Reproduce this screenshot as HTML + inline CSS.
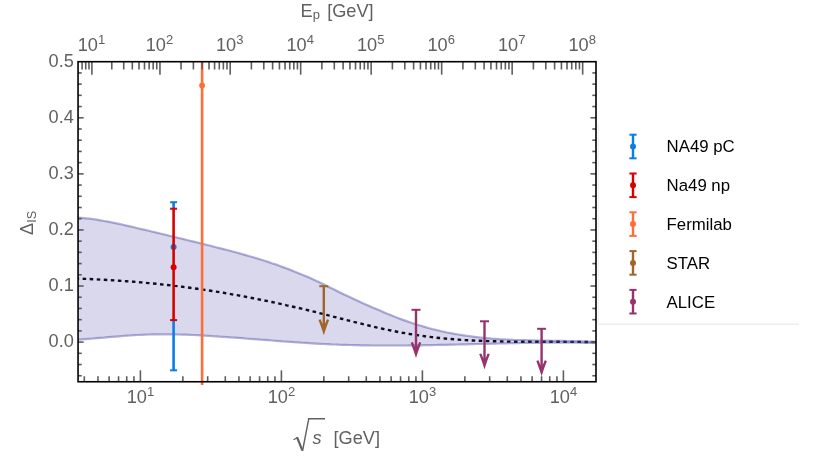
<!DOCTYPE html>
<html><head><meta charset="utf-8"><title>plot</title>
<style>
html,body{margin:0;padding:0;background:#fff;}
body{width:817px;height:469px;overflow:hidden;font-family:"Liberation Sans",sans-serif;}
svg{display:block;will-change:transform;}
</style></head><body>
<svg width="817" height="469" viewBox="0 0 817 469">
<rect width="817" height="469" fill="#ffffff"/>
<path d="M78.0,278.6L81.8,278.7L85.5,278.9L89.2,279.0L93.0,279.2L96.7,279.4L100.4,279.6L104.1,279.8L107.9,280.0L111.6,280.2L115.3,280.5L119.0,280.7L122.8,281.0L126.5,281.2L130.2,281.5L133.9,281.8L137.7,282.1L141.4,282.4L145.1,282.8L148.8,283.1L152.6,283.5L156.3,283.8L160.0,284.2L163.8,284.6L167.5,285.0L171.2,285.4L174.9,285.9L178.7,286.3L182.4,286.8L186.1,287.3L189.8,287.8L193.6,288.3L197.3,288.8L201.0,289.3L204.7,289.9L208.5,290.4L212.2,291.0L215.9,291.6L219.6,292.2L223.4,292.8L227.1,293.5L230.8,294.1L234.6,294.8L238.3,295.4L242.0,296.1L245.7,296.8L249.5,297.5L253.2,298.2L256.9,299.0L260.6,299.7L264.4,300.5L268.1,301.2L271.8,302.0L275.5,302.8L279.3,303.6L283.0,304.4L286.7,305.3L290.4,306.1L294.2,307.0L297.9,307.8L301.6,308.7L305.4,309.6L309.1,310.5L312.8,311.4L316.5,312.3L320.3,313.3L324.0,314.2L327.7,315.2L331.4,316.1L335.2,317.1L338.9,318.1L342.6,319.0L346.3,320.0L350.1,320.9L353.8,321.9L357.5,322.8L361.2,323.7L365.0,324.6L368.7,325.5L372.4,326.4L376.2,327.3L379.9,328.1L383.6,329.0L387.3,329.7L391.1,330.5L394.8,331.3L398.5,332.0L402.2,332.7L406.0,333.3L409.7,334.0L413.4,334.6L417.1,335.1L420.9,335.7L424.6,336.2L428.3,336.7L432.0,337.1L435.8,337.6L439.5,338.0L443.2,338.3L446.9,338.7L450.7,339.0L454.4,339.3L458.1,339.6L461.9,339.9L465.6,340.1L469.3,340.3L473.0,340.5L476.8,340.7L480.5,340.8L484.2,341.0L487.9,341.1L491.7,341.2L495.4,341.3L499.1,341.4L502.8,341.5L506.6,341.6L510.3,341.6L514.0,341.7L517.7,341.7L521.5,341.7L525.2,341.8L528.9,341.8L532.7,341.8L536.4,341.8L540.1,341.8L543.8,341.8L547.6,341.8L551.3,341.8L555.0,341.8L558.7,341.8L562.5,341.8L566.2,341.9L569.9,341.9L573.6,341.9L577.4,341.9L581.1,341.9L584.8,342.0L588.5,342.0L592.3,342.1L596.0,342.2" fill="none" stroke="#000" stroke-width="2.4" stroke-dasharray="3.55 3.5" stroke-dashoffset="2.4"/>
<path d="M78.0,217.6L81.8,217.9L85.5,218.3L89.2,218.7L93.0,219.2L96.7,219.7L100.4,220.3L104.1,221.0L107.9,221.6L111.6,222.4L115.3,223.1L119.0,223.9L122.8,224.7L126.5,225.6L130.2,226.4L133.9,227.3L137.7,228.2L141.4,229.1L145.1,229.9L148.8,230.8L152.6,231.7L156.3,232.6L160.0,233.5L163.8,234.4L167.5,235.3L171.2,236.2L174.9,237.1L178.7,238.0L182.4,238.9L186.1,239.8L189.8,240.7L193.6,241.6L197.3,242.5L201.0,243.4L204.7,244.4L208.5,245.3L212.2,246.2L215.9,247.2L219.6,248.1L223.4,249.1L227.1,250.0L230.8,251.0L234.6,252.0L238.3,253.0L242.0,254.1L245.7,255.1L249.5,256.2L253.2,257.3L256.9,258.4L260.6,259.5L264.4,260.7L268.1,261.9L271.8,263.2L275.5,264.4L279.3,265.7L283.0,267.1L286.7,268.5L290.4,269.9L294.2,271.4L297.9,272.9L301.6,274.4L305.4,276.0L309.1,277.6L312.8,279.3L316.5,281.0L320.3,282.8L324.0,284.6L327.7,286.4L331.4,288.2L335.2,290.1L338.9,291.9L342.6,293.7L346.3,295.5L350.1,297.3L353.8,299.1L357.5,300.8L361.2,302.5L365.0,304.2L368.7,305.8L372.4,307.5L376.2,309.1L379.9,310.6L383.6,312.2L387.3,313.8L391.1,315.3L394.8,316.8L398.5,318.2L402.2,319.6L406.0,320.9L409.7,322.2L413.4,323.5L417.1,324.7L420.9,325.8L424.6,326.9L428.3,328.0L432.0,329.0L435.8,329.9L439.5,330.8L443.2,331.7L446.9,332.5L450.7,333.2L454.4,333.9L458.1,334.5L461.9,335.1L465.6,335.7L469.3,336.2L473.0,336.7L476.8,337.1L480.5,337.5L484.2,337.9L487.9,338.2L491.7,338.6L495.4,338.8L499.1,339.1L502.8,339.3L506.6,339.5L510.3,339.7L514.0,339.9L517.7,340.0L521.5,340.1L525.2,340.2L528.9,340.3L532.7,340.4L536.4,340.5L540.1,340.6L543.8,340.6L547.6,340.7L551.3,340.8L555.0,340.8L558.7,340.9L562.5,340.9L566.2,341.0L569.9,341.1L573.6,341.1L577.4,341.2L581.1,341.3L584.8,341.4L588.5,341.6L592.3,341.7L596.0,341.9L596.0,343.1L592.3,343.0L588.5,342.9L584.8,342.8L581.1,342.8L577.4,342.7L573.6,342.7L569.9,342.7L566.2,342.7L562.5,342.6L558.7,342.6L555.0,342.7L551.3,342.7L547.6,342.7L543.8,342.7L540.1,342.8L536.4,342.8L532.7,342.8L528.9,342.9L525.2,343.0L521.5,343.0L517.7,343.1L514.0,343.2L510.3,343.2L506.6,343.3L502.8,343.4L499.1,343.5L495.4,343.6L491.7,343.7L487.9,343.8L484.2,343.8L480.5,343.9L476.8,344.0L473.0,344.1L469.3,344.2L465.6,344.3L461.9,344.4L458.1,344.5L454.4,344.6L450.7,344.7L446.9,344.8L443.2,344.8L439.5,344.9L435.8,345.0L432.0,345.1L428.3,345.2L424.6,345.2L420.9,345.3L417.1,345.3L413.4,345.4L409.7,345.4L406.0,345.5L402.2,345.5L398.5,345.5L394.8,345.5L391.1,345.5L387.3,345.5L383.6,345.5L379.9,345.5L376.2,345.5L372.4,345.5L368.7,345.4L365.0,345.4L361.2,345.3L357.5,345.2L353.8,345.1L350.1,345.0L346.3,344.9L342.6,344.8L338.9,344.7L335.2,344.5L331.4,344.4L327.7,344.2L324.0,344.0L320.3,343.8L316.5,343.6L312.8,343.4L309.1,343.2L305.4,342.9L301.6,342.7L297.9,342.4L294.2,342.2L290.4,341.9L286.7,341.6L283.0,341.4L279.3,341.1L275.5,340.8L271.8,340.5L268.1,340.2L264.4,339.9L260.6,339.7L256.9,339.4L253.2,339.1L249.5,338.8L245.7,338.5L242.0,338.2L238.3,337.9L234.6,337.6L230.8,337.4L227.1,337.1L223.4,336.8L219.6,336.6L215.9,336.3L212.2,336.1L208.5,335.8L204.7,335.6L201.0,335.4L197.3,335.2L193.6,335.0L189.8,334.8L186.1,334.7L182.4,334.6L178.7,334.5L174.9,334.4L171.2,334.3L167.5,334.3L163.8,334.3L160.0,334.3L156.3,334.3L152.6,334.4L148.8,334.5L145.1,334.6L141.4,334.8L137.7,335.0L133.9,335.2L130.2,335.5L126.5,335.7L122.8,336.0L119.0,336.3L115.3,336.6L111.6,336.9L107.9,337.2L104.1,337.6L100.4,337.9L96.7,338.2L93.0,338.5L89.2,338.8L85.5,339.1L81.8,339.4L78.0,339.7Z" fill="#413ea0" fill-opacity="0.2" stroke="none"/>
<path d="M78.0,217.6L81.8,217.9L85.5,218.3L89.2,218.7L93.0,219.2L96.7,219.7L100.4,220.3L104.1,221.0L107.9,221.6L111.6,222.4L115.3,223.1L119.0,223.9L122.8,224.7L126.5,225.6L130.2,226.4L133.9,227.3L137.7,228.2L141.4,229.1L145.1,229.9L148.8,230.8L152.6,231.7L156.3,232.6L160.0,233.5L163.8,234.4L167.5,235.3L171.2,236.2L174.9,237.1L178.7,238.0L182.4,238.9L186.1,239.8L189.8,240.7L193.6,241.6L197.3,242.5L201.0,243.4L204.7,244.4L208.5,245.3L212.2,246.2L215.9,247.2L219.6,248.1L223.4,249.1L227.1,250.0L230.8,251.0L234.6,252.0L238.3,253.0L242.0,254.1L245.7,255.1L249.5,256.2L253.2,257.3L256.9,258.4L260.6,259.5L264.4,260.7L268.1,261.9L271.8,263.2L275.5,264.4L279.3,265.7L283.0,267.1L286.7,268.5L290.4,269.9L294.2,271.4L297.9,272.9L301.6,274.4L305.4,276.0L309.1,277.6L312.8,279.3L316.5,281.0L320.3,282.8L324.0,284.6L327.7,286.4L331.4,288.2L335.2,290.1L338.9,291.9L342.6,293.7L346.3,295.5L350.1,297.3L353.8,299.1L357.5,300.8L361.2,302.5L365.0,304.2L368.7,305.8L372.4,307.5L376.2,309.1L379.9,310.6L383.6,312.2L387.3,313.8L391.1,315.3L394.8,316.8L398.5,318.2L402.2,319.6L406.0,320.9L409.7,322.2L413.4,323.5L417.1,324.7L420.9,325.8L424.6,326.9L428.3,328.0L432.0,329.0L435.8,329.9L439.5,330.8L443.2,331.7L446.9,332.5L450.7,333.2L454.4,333.9L458.1,334.5L461.9,335.1L465.6,335.7L469.3,336.2L473.0,336.7L476.8,337.1L480.5,337.5L484.2,337.9L487.9,338.2L491.7,338.6L495.4,338.8L499.1,339.1L502.8,339.3L506.6,339.5L510.3,339.7L514.0,339.9L517.7,340.0L521.5,340.1L525.2,340.2L528.9,340.3L532.7,340.4L536.4,340.5L540.1,340.6L543.8,340.6L547.6,340.7L551.3,340.8L555.0,340.8L558.7,340.9L562.5,340.9L566.2,341.0L569.9,341.1L573.6,341.1L577.4,341.2L581.1,341.3L584.8,341.4L588.5,341.6L592.3,341.7L596.0,341.9" fill="none" stroke="#413ea0" stroke-opacity="0.41" stroke-width="2.2"/>
<path d="M78.0,339.7L81.8,339.4L85.5,339.1L89.2,338.8L93.0,338.5L96.7,338.2L100.4,337.9L104.1,337.6L107.9,337.2L111.6,336.9L115.3,336.6L119.0,336.3L122.8,336.0L126.5,335.7L130.2,335.5L133.9,335.2L137.7,335.0L141.4,334.8L145.1,334.6L148.8,334.5L152.6,334.4L156.3,334.3L160.0,334.3L163.8,334.3L167.5,334.3L171.2,334.3L174.9,334.4L178.7,334.5L182.4,334.6L186.1,334.7L189.8,334.8L193.6,335.0L197.3,335.2L201.0,335.4L204.7,335.6L208.5,335.8L212.2,336.1L215.9,336.3L219.6,336.6L223.4,336.8L227.1,337.1L230.8,337.4L234.6,337.6L238.3,337.9L242.0,338.2L245.7,338.5L249.5,338.8L253.2,339.1L256.9,339.4L260.6,339.7L264.4,339.9L268.1,340.2L271.8,340.5L275.5,340.8L279.3,341.1L283.0,341.4L286.7,341.6L290.4,341.9L294.2,342.2L297.9,342.4L301.6,342.7L305.4,342.9L309.1,343.2L312.8,343.4L316.5,343.6L320.3,343.8L324.0,344.0L327.7,344.2L331.4,344.4L335.2,344.5L338.9,344.7L342.6,344.8L346.3,344.9L350.1,345.0L353.8,345.1L357.5,345.2L361.2,345.3L365.0,345.4L368.7,345.4L372.4,345.5L376.2,345.5L379.9,345.5L383.6,345.5L387.3,345.5L391.1,345.5L394.8,345.5L398.5,345.5L402.2,345.5L406.0,345.5L409.7,345.4L413.4,345.4L417.1,345.3L420.9,345.3L424.6,345.2L428.3,345.2L432.0,345.1L435.8,345.0L439.5,344.9L443.2,344.8L446.9,344.8L450.7,344.7L454.4,344.6L458.1,344.5L461.9,344.4L465.6,344.3L469.3,344.2L473.0,344.1L476.8,344.0L480.5,343.9L484.2,343.8L487.9,343.8L491.7,343.7L495.4,343.6L499.1,343.5L502.8,343.4L506.6,343.3L510.3,343.2L514.0,343.2L517.7,343.1L521.5,343.0L525.2,343.0L528.9,342.9L532.7,342.8L536.4,342.8L540.1,342.8L543.8,342.7L547.6,342.7L551.3,342.7L555.0,342.7L558.7,342.6L562.5,342.6L566.2,342.7L569.9,342.7L573.6,342.7L577.4,342.7L581.1,342.8L584.8,342.8L588.5,342.9L592.3,343.0L596.0,343.1" fill="none" stroke="#413ea0" stroke-opacity="0.41" stroke-width="2.2"/>
<line x1="173.6" y1="202.2" x2="173.6" y2="209" stroke="#0a7de8" stroke-width="2.6"/>
<line x1="173.6" y1="320" x2="173.6" y2="370.3" stroke="#0a7de8" stroke-width="2.6"/>
<line x1="170.1" y1="202.2" x2="177.1" y2="202.2" stroke="#0a7de8" stroke-width="2"/>
<line x1="170.1" y1="370.3" x2="177.1" y2="370.3" stroke="#0a7de8" stroke-width="2"/>
<circle cx="173.6" cy="247.0" r="3.0" fill="#0a7de8"/>
<line x1="173.6" y1="208.7" x2="173.6" y2="320.1" stroke="#d80000" stroke-width="2.6"/>
<line x1="170.1" y1="208.7" x2="177.1" y2="208.7" stroke="#d80000" stroke-width="2"/>
<line x1="170.1" y1="320.1" x2="177.1" y2="320.1" stroke="#d80000" stroke-width="2"/>
<circle cx="173.6" cy="267.2" r="3.0" fill="#d80000"/>
<line x1="202.1" y1="61.7" x2="202.1" y2="384.9" stroke="#ff6e38" stroke-width="2.6"/>
<circle cx="202.1" cy="85.5" r="2.9" fill="#ff6e38"/>
<line x1="319.3" y1="286.2" x2="328.3" y2="286.2" stroke="#a0652c" stroke-width="2"/>
<line x1="323.8" y1="286.2" x2="323.8" y2="326.0" stroke="#a0652c" stroke-width="2.4"/>
<path transform="translate(323.8,335.0)" d="M0,0.3 Q-2.4,-7.5 -5.3,-15.0 L-3.1,-15.7 Q-1.7,-11.6 0,-9.4 Q1.7,-11.6 3.1,-15.7 L5.3,-15.0 Q2.4,-7.5 0,0.3Z" fill="#a0652c"/>
<line x1="411.5" y1="309.8" x2="420.5" y2="309.8" stroke="#97336c" stroke-width="2"/>
<line x1="416.0" y1="309.8" x2="416.0" y2="348.8" stroke="#97336c" stroke-width="2.4"/>
<path transform="translate(416.0,357.8)" d="M0,0.3 Q-2.4,-7.5 -5.3,-15.0 L-3.1,-15.7 Q-1.7,-11.6 0,-9.4 Q1.7,-11.6 3.1,-15.7 L5.3,-15.0 Q2.4,-7.5 0,0.3Z" fill="#97336c"/>
<line x1="480.0" y1="321.3" x2="489.0" y2="321.3" stroke="#97336c" stroke-width="2"/>
<line x1="484.5" y1="321.3" x2="484.5" y2="360.1" stroke="#97336c" stroke-width="2.4"/>
<path transform="translate(484.5,369.1)" d="M0,0.3 Q-2.4,-7.5 -5.3,-15.0 L-3.1,-15.7 Q-1.7,-11.6 0,-9.4 Q1.7,-11.6 3.1,-15.7 L5.3,-15.0 Q2.4,-7.5 0,0.3Z" fill="#97336c"/>
<line x1="537.1" y1="328.8" x2="546.1" y2="328.8" stroke="#97336c" stroke-width="2"/>
<line x1="541.6" y1="328.8" x2="541.6" y2="366.9" stroke="#97336c" stroke-width="2.4"/>
<path transform="translate(541.6,375.9)" d="M0,0.3 Q-2.4,-7.5 -5.3,-15.0 L-3.1,-15.7 Q-1.7,-11.6 0,-9.4 Q1.7,-11.6 3.1,-15.7 L5.3,-15.0 Q2.4,-7.5 0,0.3Z" fill="#97336c"/>
<g stroke="#5e5e5e" stroke-width="1.6">
<line x1="84.29" y1="381.75" x2="84.29" y2="376.25"/>
<line x1="97.95" y1="381.75" x2="97.95" y2="376.25"/>
<line x1="109.12" y1="381.75" x2="109.12" y2="376.25"/>
<line x1="118.56" y1="381.75" x2="118.56" y2="376.25"/>
<line x1="126.74" y1="381.75" x2="126.74" y2="376.25"/>
<line x1="133.95" y1="381.75" x2="133.95" y2="376.25"/>
<line x1="140.40" y1="381.75" x2="140.40" y2="370.35"/>
<line x1="182.85" y1="381.75" x2="182.85" y2="376.25"/>
<line x1="207.67" y1="381.75" x2="207.67" y2="376.25"/>
<line x1="225.29" y1="381.75" x2="225.29" y2="376.25"/>
<line x1="238.95" y1="381.75" x2="238.95" y2="376.25"/>
<line x1="250.12" y1="381.75" x2="250.12" y2="376.25"/>
<line x1="259.56" y1="381.75" x2="259.56" y2="376.25"/>
<line x1="267.74" y1="381.75" x2="267.74" y2="376.25"/>
<line x1="274.95" y1="381.75" x2="274.95" y2="376.25"/>
<line x1="281.40" y1="381.75" x2="281.40" y2="370.35"/>
<line x1="323.85" y1="381.75" x2="323.85" y2="376.25"/>
<line x1="348.67" y1="381.75" x2="348.67" y2="376.25"/>
<line x1="366.29" y1="381.75" x2="366.29" y2="376.25"/>
<line x1="379.95" y1="381.75" x2="379.95" y2="376.25"/>
<line x1="391.12" y1="381.75" x2="391.12" y2="376.25"/>
<line x1="400.56" y1="381.75" x2="400.56" y2="376.25"/>
<line x1="408.74" y1="381.75" x2="408.74" y2="376.25"/>
<line x1="415.95" y1="381.75" x2="415.95" y2="376.25"/>
<line x1="422.40" y1="381.75" x2="422.40" y2="370.35"/>
<line x1="464.85" y1="381.75" x2="464.85" y2="376.25"/>
<line x1="489.67" y1="381.75" x2="489.67" y2="376.25"/>
<line x1="507.29" y1="381.75" x2="507.29" y2="376.25"/>
<line x1="520.95" y1="381.75" x2="520.95" y2="376.25"/>
<line x1="532.12" y1="381.75" x2="532.12" y2="376.25"/>
<line x1="541.56" y1="381.75" x2="541.56" y2="376.25"/>
<line x1="549.74" y1="381.75" x2="549.74" y2="376.25"/>
<line x1="556.95" y1="381.75" x2="556.95" y2="376.25"/>
<line x1="563.40" y1="381.75" x2="563.40" y2="370.35"/>
<line x1="82.09" y1="61.70" x2="82.09" y2="69.50"/>
<line x1="85.73" y1="61.70" x2="85.73" y2="69.50"/>
<line x1="88.97" y1="61.70" x2="88.97" y2="69.50"/>
<line x1="91.91" y1="61.70" x2="91.91" y2="74.70"/>
<line x1="111.79" y1="61.70" x2="111.79" y2="69.50"/>
<line x1="123.74" y1="61.70" x2="123.74" y2="69.50"/>
<line x1="132.32" y1="61.70" x2="132.32" y2="69.50"/>
<line x1="139.01" y1="61.70" x2="139.01" y2="69.50"/>
<line x1="144.50" y1="61.70" x2="144.50" y2="69.50"/>
<line x1="149.15" y1="61.70" x2="149.15" y2="69.50"/>
<line x1="153.19" y1="61.70" x2="153.19" y2="69.50"/>
<line x1="156.75" y1="61.70" x2="156.75" y2="69.50"/>
<line x1="159.95" y1="61.70" x2="159.95" y2="74.70"/>
<line x1="181.03" y1="61.70" x2="181.03" y2="69.50"/>
<line x1="193.40" y1="61.70" x2="193.40" y2="69.50"/>
<line x1="202.18" y1="61.70" x2="202.18" y2="69.50"/>
<line x1="209.00" y1="61.70" x2="209.00" y2="69.50"/>
<line x1="214.57" y1="61.70" x2="214.57" y2="69.50"/>
<line x1="219.28" y1="61.70" x2="219.28" y2="69.50"/>
<line x1="223.37" y1="61.70" x2="223.37" y2="69.50"/>
<line x1="226.97" y1="61.70" x2="226.97" y2="69.50"/>
<line x1="230.19" y1="61.70" x2="230.19" y2="74.70"/>
<line x1="251.40" y1="61.70" x2="251.40" y2="69.50"/>
<line x1="263.81" y1="61.70" x2="263.81" y2="69.50"/>
<line x1="272.62" y1="61.70" x2="272.62" y2="69.50"/>
<line x1="279.45" y1="61.70" x2="279.45" y2="69.50"/>
<line x1="285.03" y1="61.70" x2="285.03" y2="69.50"/>
<line x1="289.75" y1="61.70" x2="289.75" y2="69.50"/>
<line x1="293.83" y1="61.70" x2="293.83" y2="69.50"/>
<line x1="297.44" y1="61.70" x2="297.44" y2="69.50"/>
<line x1="300.67" y1="61.70" x2="300.67" y2="74.70"/>
<line x1="321.89" y1="61.70" x2="321.89" y2="69.50"/>
<line x1="334.30" y1="61.70" x2="334.30" y2="69.50"/>
<line x1="343.11" y1="61.70" x2="343.11" y2="69.50"/>
<line x1="349.94" y1="61.70" x2="349.94" y2="69.50"/>
<line x1="355.52" y1="61.70" x2="355.52" y2="69.50"/>
<line x1="360.24" y1="61.70" x2="360.24" y2="69.50"/>
<line x1="364.33" y1="61.70" x2="364.33" y2="69.50"/>
<line x1="367.94" y1="61.70" x2="367.94" y2="69.50"/>
<line x1="371.16" y1="61.70" x2="371.16" y2="74.70"/>
<line x1="392.39" y1="61.70" x2="392.39" y2="69.50"/>
<line x1="404.80" y1="61.70" x2="404.80" y2="69.50"/>
<line x1="413.61" y1="61.70" x2="413.61" y2="69.50"/>
<line x1="420.44" y1="61.70" x2="420.44" y2="69.50"/>
<line x1="426.02" y1="61.70" x2="426.02" y2="69.50"/>
<line x1="430.74" y1="61.70" x2="430.74" y2="69.50"/>
<line x1="434.83" y1="61.70" x2="434.83" y2="69.50"/>
<line x1="438.44" y1="61.70" x2="438.44" y2="69.50"/>
<line x1="441.66" y1="61.70" x2="441.66" y2="74.70"/>
<line x1="462.89" y1="61.70" x2="462.89" y2="69.50"/>
<line x1="475.30" y1="61.70" x2="475.30" y2="69.50"/>
<line x1="484.11" y1="61.70" x2="484.11" y2="69.50"/>
<line x1="490.94" y1="61.70" x2="490.94" y2="69.50"/>
<line x1="496.52" y1="61.70" x2="496.52" y2="69.50"/>
<line x1="501.24" y1="61.70" x2="501.24" y2="69.50"/>
<line x1="505.33" y1="61.70" x2="505.33" y2="69.50"/>
<line x1="508.94" y1="61.70" x2="508.94" y2="69.50"/>
<line x1="512.16" y1="61.70" x2="512.16" y2="74.70"/>
<line x1="533.39" y1="61.70" x2="533.39" y2="69.50"/>
<line x1="545.80" y1="61.70" x2="545.80" y2="69.50"/>
<line x1="554.61" y1="61.70" x2="554.61" y2="69.50"/>
<line x1="561.44" y1="61.70" x2="561.44" y2="69.50"/>
<line x1="567.02" y1="61.70" x2="567.02" y2="69.50"/>
<line x1="571.74" y1="61.70" x2="571.74" y2="69.50"/>
<line x1="575.83" y1="61.70" x2="575.83" y2="69.50"/>
<line x1="579.44" y1="61.70" x2="579.44" y2="69.50"/>
<line x1="582.66" y1="61.70" x2="582.66" y2="74.70"/>
<line x1="78.05" y1="375.75" x2="81.75" y2="375.75"/>
<line x1="596.00" y1="375.75" x2="592.30" y2="375.75"/>
<line x1="78.05" y1="364.53" x2="81.75" y2="364.53"/>
<line x1="596.00" y1="364.53" x2="592.30" y2="364.53"/>
<line x1="78.05" y1="353.32" x2="81.75" y2="353.32"/>
<line x1="596.00" y1="353.32" x2="592.30" y2="353.32"/>
<line x1="78.05" y1="342.10" x2="83.65" y2="342.10"/>
<line x1="596.00" y1="342.10" x2="590.40" y2="342.10"/>
<line x1="78.05" y1="330.88" x2="81.75" y2="330.88"/>
<line x1="596.00" y1="330.88" x2="592.30" y2="330.88"/>
<line x1="78.05" y1="319.67" x2="81.75" y2="319.67"/>
<line x1="596.00" y1="319.67" x2="592.30" y2="319.67"/>
<line x1="78.05" y1="308.45" x2="81.75" y2="308.45"/>
<line x1="596.00" y1="308.45" x2="592.30" y2="308.45"/>
<line x1="78.05" y1="297.24" x2="81.75" y2="297.24"/>
<line x1="596.00" y1="297.24" x2="592.30" y2="297.24"/>
<line x1="78.05" y1="286.02" x2="83.65" y2="286.02"/>
<line x1="596.00" y1="286.02" x2="590.40" y2="286.02"/>
<line x1="78.05" y1="274.80" x2="81.75" y2="274.80"/>
<line x1="596.00" y1="274.80" x2="592.30" y2="274.80"/>
<line x1="78.05" y1="263.59" x2="81.75" y2="263.59"/>
<line x1="596.00" y1="263.59" x2="592.30" y2="263.59"/>
<line x1="78.05" y1="252.37" x2="81.75" y2="252.37"/>
<line x1="596.00" y1="252.37" x2="592.30" y2="252.37"/>
<line x1="78.05" y1="241.16" x2="81.75" y2="241.16"/>
<line x1="596.00" y1="241.16" x2="592.30" y2="241.16"/>
<line x1="78.05" y1="229.94" x2="83.65" y2="229.94"/>
<line x1="596.00" y1="229.94" x2="590.40" y2="229.94"/>
<line x1="78.05" y1="218.72" x2="81.75" y2="218.72"/>
<line x1="596.00" y1="218.72" x2="592.30" y2="218.72"/>
<line x1="78.05" y1="207.51" x2="81.75" y2="207.51"/>
<line x1="596.00" y1="207.51" x2="592.30" y2="207.51"/>
<line x1="78.05" y1="196.29" x2="81.75" y2="196.29"/>
<line x1="596.00" y1="196.29" x2="592.30" y2="196.29"/>
<line x1="78.05" y1="185.08" x2="81.75" y2="185.08"/>
<line x1="596.00" y1="185.08" x2="592.30" y2="185.08"/>
<line x1="78.05" y1="173.86" x2="83.65" y2="173.86"/>
<line x1="596.00" y1="173.86" x2="590.40" y2="173.86"/>
<line x1="78.05" y1="162.64" x2="81.75" y2="162.64"/>
<line x1="596.00" y1="162.64" x2="592.30" y2="162.64"/>
<line x1="78.05" y1="151.43" x2="81.75" y2="151.43"/>
<line x1="596.00" y1="151.43" x2="592.30" y2="151.43"/>
<line x1="78.05" y1="140.21" x2="81.75" y2="140.21"/>
<line x1="596.00" y1="140.21" x2="592.30" y2="140.21"/>
<line x1="78.05" y1="129.00" x2="81.75" y2="129.00"/>
<line x1="596.00" y1="129.00" x2="592.30" y2="129.00"/>
<line x1="78.05" y1="117.78" x2="83.65" y2="117.78"/>
<line x1="596.00" y1="117.78" x2="590.40" y2="117.78"/>
<line x1="78.05" y1="106.56" x2="81.75" y2="106.56"/>
<line x1="596.00" y1="106.56" x2="592.30" y2="106.56"/>
<line x1="78.05" y1="95.35" x2="81.75" y2="95.35"/>
<line x1="596.00" y1="95.35" x2="592.30" y2="95.35"/>
<line x1="78.05" y1="84.13" x2="81.75" y2="84.13"/>
<line x1="596.00" y1="84.13" x2="592.30" y2="84.13"/>
<line x1="78.05" y1="72.92" x2="81.75" y2="72.92"/>
<line x1="596.00" y1="72.92" x2="592.30" y2="72.92"/>
</g>
<rect x="78.05" y="61.70" width="517.95" height="320.05" fill="none" stroke="#000" stroke-width="1.6"/>
<g fill="#606060" font-family="Liberation Sans, sans-serif" font-size="18.2px">
<text x="73.9" y="347.3" text-anchor="end">0.0</text>
<text x="73.9" y="291.2" text-anchor="end">0.1</text>
<text x="73.9" y="235.1" text-anchor="end">0.2</text>
<text x="73.9" y="179.1" text-anchor="end">0.3</text>
<text x="73.9" y="123.0" text-anchor="end">0.4</text>
<text x="73.9" y="66.9" text-anchor="end">0.5</text>
<text x="140.4" y="402.8" text-anchor="middle">10<tspan font-size="13px" dy="-7.1">1</tspan></text>
<text x="281.4" y="402.8" text-anchor="middle">10<tspan font-size="13px" dy="-7.1">2</tspan></text>
<text x="422.4" y="402.8" text-anchor="middle">10<tspan font-size="13px" dy="-7.1">3</tspan></text>
<text x="563.4" y="402.8" text-anchor="middle">10<tspan font-size="13px" dy="-7.1">4</tspan></text>
<text x="91.4" y="50.8" text-anchor="middle">10<tspan font-size="13px" dy="-7.0">1</tspan></text>
<text x="159.4" y="50.8" text-anchor="middle">10<tspan font-size="13px" dy="-7.0">2</tspan></text>
<text x="229.7" y="50.8" text-anchor="middle">10<tspan font-size="13px" dy="-7.0">3</tspan></text>
<text x="300.2" y="50.8" text-anchor="middle">10<tspan font-size="13px" dy="-7.0">4</tspan></text>
<text x="370.7" y="50.8" text-anchor="middle">10<tspan font-size="13px" dy="-7.0">5</tspan></text>
<text x="441.2" y="50.8" text-anchor="middle">10<tspan font-size="13px" dy="-7.0">6</tspan></text>
<text x="511.7" y="50.8" text-anchor="middle">10<tspan font-size="13px" dy="-7.0">7</tspan></text>
<text x="582.2" y="50.8" text-anchor="middle">10<tspan font-size="13px" dy="-7.0">8</tspan></text>
<text x="300.6" y="17.4">E<tspan font-size="13px" dy="1.8">p</tspan><tspan dy="-1.8" dx="7.2">[GeV]</tspan></text>
<text x="312.5" y="443.8" font-style="italic">s</text>
<text x="333.5" y="443.8">[GeV]</text>
<g fill="none" stroke="#606060" stroke-linecap="butt"><path d="M293.5,439.7 L297.6,437.5" stroke-width="1.2"/><path d="M297.0,437.2 L302.3,450.4" stroke-width="2.2"/><path d="M302.5,451.0 L308.75,418.75 L325,418.75" stroke-width="1.4" stroke-linejoin="miter"/></g>
<text transform="translate(33,235.0) rotate(-90)">&#916;<tspan font-size="12.6px" dy="3.2">IS</tspan></text>
</g>
<line x1="598.3" y1="324.1" x2="799" y2="324.1" stroke="#e4e4e4" stroke-width="1"/>
<line x1="598.3" y1="123.8" x2="598.3" y2="323.9" stroke="#eeeeee" stroke-width="1"/>
<g font-family="Liberation Sans, sans-serif" font-size="16.8px" fill="#000">
<line x1="633.0" y1="134.7" x2="633.0" y2="158.3" stroke="#0a7de8" stroke-width="2.4"/>
<line x1="629.4" y1="134.7" x2="636.6" y2="134.7" stroke="#0a7de8" stroke-width="2"/>
<line x1="629.4" y1="158.3" x2="636.6" y2="158.3" stroke="#0a7de8" stroke-width="2"/>
<circle cx="633.0" cy="146.5" r="3.0" fill="#0a7de8"/>
<text x="666.6" y="152.4">NA49 pC</text>
<line x1="633.0" y1="173.5" x2="633.0" y2="197.1" stroke="#d80000" stroke-width="2.4"/>
<line x1="629.4" y1="173.5" x2="636.6" y2="173.5" stroke="#d80000" stroke-width="2"/>
<line x1="629.4" y1="197.1" x2="636.6" y2="197.1" stroke="#d80000" stroke-width="2"/>
<circle cx="633.0" cy="185.3" r="3.0" fill="#d80000"/>
<text x="666.6" y="191.2">Na49 np</text>
<line x1="633.0" y1="212.3" x2="633.0" y2="235.9" stroke="#ff6e38" stroke-width="2.4"/>
<line x1="629.4" y1="212.3" x2="636.6" y2="212.3" stroke="#ff6e38" stroke-width="2"/>
<line x1="629.4" y1="235.9" x2="636.6" y2="235.9" stroke="#ff6e38" stroke-width="2"/>
<circle cx="633.0" cy="224.1" r="3.0" fill="#ff6e38"/>
<text x="666.6" y="230.0">Fermilab</text>
<line x1="633.0" y1="251.1" x2="633.0" y2="274.7" stroke="#a0652c" stroke-width="2.4"/>
<line x1="629.4" y1="251.1" x2="636.6" y2="251.1" stroke="#a0652c" stroke-width="2"/>
<line x1="629.4" y1="274.7" x2="636.6" y2="274.7" stroke="#a0652c" stroke-width="2"/>
<circle cx="633.0" cy="262.9" r="3.0" fill="#a0652c"/>
<text x="666.6" y="268.8">STAR</text>
<line x1="633.0" y1="289.9" x2="633.0" y2="313.5" stroke="#97336c" stroke-width="2.4"/>
<line x1="629.4" y1="289.9" x2="636.6" y2="289.9" stroke="#97336c" stroke-width="2"/>
<line x1="629.4" y1="313.5" x2="636.6" y2="313.5" stroke="#97336c" stroke-width="2"/>
<circle cx="633.0" cy="301.7" r="3.0" fill="#97336c"/>
<text x="666.6" y="307.6">ALICE</text>
</g>
</svg>
</body></html>
